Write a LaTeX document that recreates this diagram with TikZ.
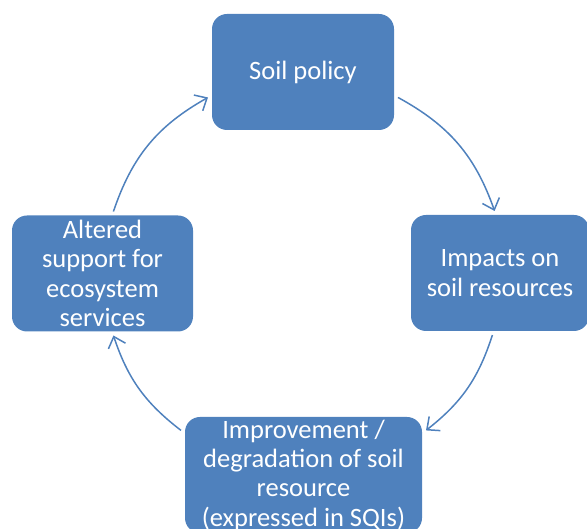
\documentclass[tikz,border=0pt]{standalone}
\usepackage{fontspec}
\setmainfont{Carlito}
\usepackage{tikz}
\usetikzlibrary{arrows.meta}

\definecolor{boxblue}{HTML}{4F81BD}

\tikzset{
	box/.style={rectangle,rounded corners=15pt,fill=boxblue,text=white,align=center,inner sep=0pt,outer sep=4pt,minimum height=116pt,font=\fontsize{26.5pt}{29.3pt}\selectfont},
	cycle/.style={draw=boxblue,line width=1.5pt,-{Straight Barb[length=10pt,width=18pt,line width=1.5pt]}}
}

\begin{document}
\begin{tikzpicture}[x=1pt,y=1pt]
	\useasboundingbox (0,0) rectangle (587,529);
	\node[box,minimum width=182pt](pol) at (303,457) {Soil policy};
	\node[box,minimum width=178pt](imp) at (500,256) {Impacts on\\soil resources};
	\node[box,minimum width=237pt](deg) at (303.5,54) {Improvement /\\degradation of soil\\resource\\(expressed in SQIs)};
	\node[box,minimum width=181pt](alt) at (102.5,255.5) {Altered\\support for\\ecosystem\\services};

	\draw[cycle] (pol.-15) to[bend left=21] (imp.95);
	\draw[cycle] (imp.-97) to[bend left=17] (deg.20);
	\draw[cycle] (deg.160) to[bend left=17] (alt.-80);
	\draw[cycle] (alt.80) to[bend left=21] (pol.195);
\end{tikzpicture}
\end{document}
